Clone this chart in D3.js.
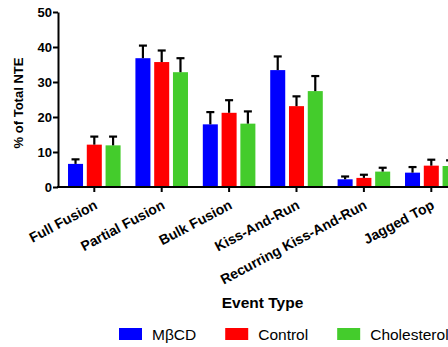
<!DOCTYPE html>
<html>
<head>
<meta charset="utf-8">
<script src="https://cdn.jsdelivr.net/npm/d3@7"></script>
<style>
  body { margin: 0; background: #fff; }
  text { font-family: "Liberation Sans", Arial, sans-serif; }
</style>
</head>
<body>
<svg id="chart" width="448" height="347"></svg>
<script>
var width = 448;
var height = 347;

// event types along the x axis
var categories = ["Full Fusion", "Partial Fusion", "Bulk Fusion", "Kiss-And-Run",
                  "Recurring Kiss-And-Run", "Jagged Top"];
var seriesNames = ["M\u03B2CD", "Control", "Cholesterol"];
var seriesColors = ["#0000ff", "#ff0000", "#44cc2c"];

// mean % of total NTE per series
var mbcd        = [6.6, 36.8, 17.9, 33.4, 2.2, 4.1];
var control     = [12.1, 35.7, 21.2, 23.1, 2.6, 6.1];
var cholesterol = [11.9, 32.8, 18.1, 27.4, 4.4, 6.0];
// error bar (SEM) sizes, drawn upward only
var mbcdErr        = [1.3, 3.6, 3.5, 3.9, 0.8, 1.6];
var controlErr     = [2.3, 3.3, 3.6, 2.8, 0.9, 1.7];
var cholesterolErr = [2.5, 4.0, 3.5, 4.3, 1.1, 1.6];

var yTicks = [0, 10, 20, 30, 40, 50];

var values = [mbcd, control, cholesterol];
var errors = [mbcdErr, controlErr, cholesterolErr];

var margin = {left: 58, top: 12, bottom: 187};

var svg = d3.select("#chart");

var y = d3.scaleLinear()
  .domain([0, 50])
  .range([margin.bottom, margin.top]);

var x = d3.scaleBand()
  .domain(categories)
  .range([60.6, 60.6 + 6 * 67.4])
  .paddingInner(0.22)
  .paddingOuter(0.11);

var xInner = d3.scaleBand()
  .domain(d3.range(seriesNames.length))
  .range([0, x.bandwidth()])
  .paddingInner(0.2);

// bars
var groups = svg.selectAll("g.group")
  .data(categories)
  .enter()
  .append("g")
    .attr("class", "group")
    .attr("transform", function(d) { return "translate(" + x(d) + ",0)"; });

groups.each(function(cat, ci) {
  var g = d3.select(this);
  seriesNames.forEach(function(s, si) {
    var v = values[si][ci];
    var e = errors[si][ci];
    var bx = xInner(si);
    var cx = bx + xInner.bandwidth() / 2;
    g.append("rect")
      .attr("x", bx)
      .attr("y", y(v))
      .attr("width", xInner.bandwidth())
      .attr("height", y(0) - y(v))
      .attr("fill", seriesColors[si]);
    g.append("line")
      .attr("x1", cx).attr("x2", cx)
      .attr("y1", y(v)).attr("y2", y(v + e))
      .attr("stroke", "black")
      .attr("stroke-width", 2.2);
    g.append("line")
      .attr("x1", cx - 4).attr("x2", cx + 4)
      .attr("y1", y(v + e)).attr("y2", y(v + e))
      .attr("stroke", "black")
      .attr("stroke-width", 2.2);
  });
});

// y axis
var yAxis = svg.append("g")
  .attr("transform", "translate(" + margin.left + ",0)")
  .call(d3.axisLeft(y).tickValues(yTicks).tickSize(5).tickSizeOuter(0));
yAxis.select(".domain").attr("stroke-width", 2);
yAxis.selectAll(".tick line").attr("stroke-width", 2);
yAxis.selectAll(".tick text")
  .attr("x", -6)
  .style("font-family", "'Liberation Sans', Arial, sans-serif")
  .style("font-size", "13px")
  .style("font-weight", "bold")
  .attr("fill", "#000");

// x axis
var xAxis = svg.append("g")
  .attr("transform", "translate(0," + margin.bottom + ")")
  .call(d3.axisBottom(x).tickSize(5).tickSizeOuter(0));
xAxis.select(".domain").remove();
xAxis.append("line")
  .attr("x1", margin.left - 1).attr("x2", width)
  .attr("y1", 0).attr("y2", 0)
  .attr("stroke", "black")
  .attr("stroke-width", 2);
xAxis.selectAll(".tick line").attr("stroke-width", 2);
xAxis.selectAll(".tick text")
  .style("font-family", "'Liberation Sans', Arial, sans-serif")
  .style("font-size", "14px")
  .style("font-weight", "bold")
  .attr("fill", "#000")
  .attr("text-anchor", "end")
  .attr("dy", null)
  .attr("y", null)
  .attr("transform", "translate(4,21) rotate(-28)");

// axis titles
svg.append("text")
  .attr("transform", "translate(23,103) rotate(-90)")
  .attr("text-anchor", "middle")
  .style("font-size", "13px")
  .style("font-weight", "bold")
  .text("% of Total NTE");

svg.append("text")
  .attr("x", 262.5)
  .attr("y", 308)
  .attr("text-anchor", "middle")
  .style("font-size", "15.5px")
  .style("font-weight", "bold")
  .text("Event Type");

// legend
var legend = svg.append("g").attr("transform", "translate(119,328)");
var lx = 0;
seriesNames.forEach(function(s, i) {
  legend.append("rect")
    .attr("x", lx).attr("y", 0)
    .attr("width", 23).attr("height", 12)
    .attr("fill", seriesColors[i]);
  var t = legend.append("text")
    .attr("x", lx + 33)
    .attr("y", 11.5)
    .style("font-size", "15.5px")
    .text(s);
  lx += 33 + t.node().getComputedTextLength() + 29;
});
</script>
</body>
</html>
